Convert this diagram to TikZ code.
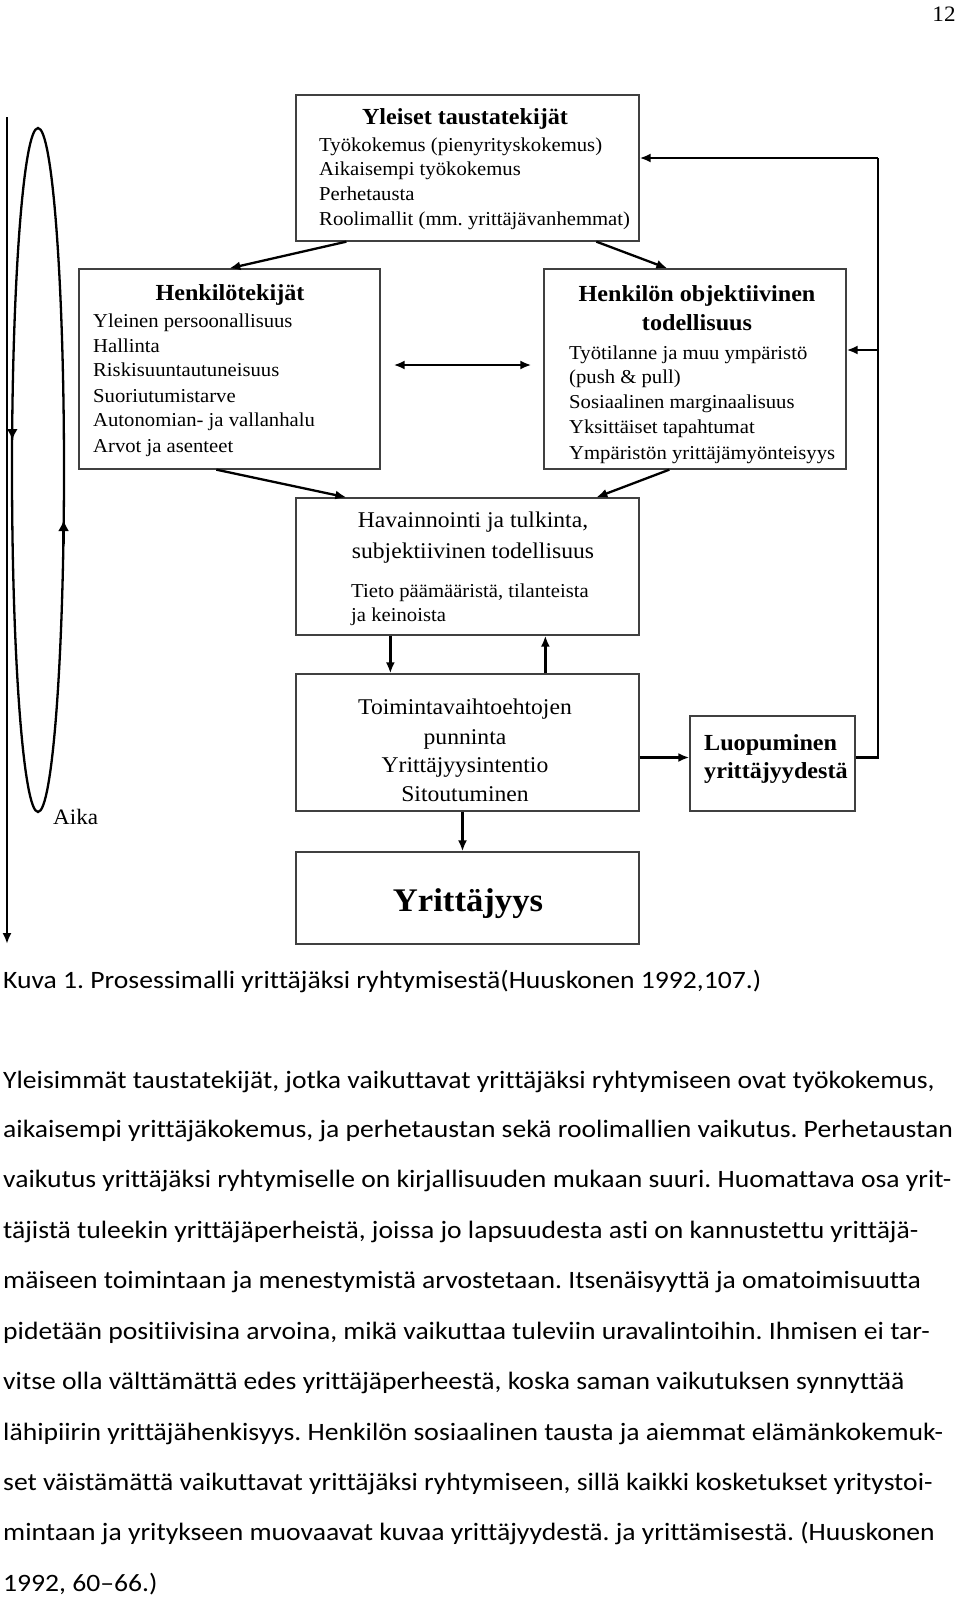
\documentclass[tikz,border=0pt]{standalone}
\usepackage{fontspec}
\setmainfont{Liberation Serif}
\newfontfamily\dg[FakeStretch=1.05,Ligatures=NoCommon]{Liberation Serif}
\newfontfamily\bodyf[FakeStretch=1.105,Ligatures=NoCommon]{Carlito}
\usetikzlibrary{arrows.meta,calc,shapes.geometric}
\frenchspacing
\begin{document}
\begin{tikzpicture}[x=1pt,y=-1pt,
  box/.style={draw=black!75, line width=1.3pt, fill=none, inner sep=0pt},
  arr/.style={line width=2.3pt, -{Latex[length=11pt,width=9pt]}},
  darr/.style={line width=2.3pt, {Latex[length=11pt,width=9pt]}-{Latex[length=11pt,width=9pt]}},
  ln/.style={line width=2.3pt},
  hd/.style={inner sep=0pt, anchor=base, font={\dg\bfseries\fontsize{23}{23}\selectfont}},
  it/.style={inner sep=0pt, anchor=base west, font={\dg\fontsize{19.7}{19.7}\selectfont}},
  mid/.style={inner sep=0pt, anchor=base, font={\dg\fontsize{22.5}{22.5}\selectfont}},
  bt/.style={inner sep=0pt, anchor=base west, font={\bodyf\fontsize{25}{25}\selectfont}}]
\useasboundingbox (0,0) rectangle (960,1599);
\fill[white] (0,0) rectangle (960,1599);

% page number
\node[inner sep=0pt, anchor=base, font={\dg\fontsize{22}{22}\selectfont}] (pg) at (944,21) {12};

% boxes
\node[box, minimum width=343, minimum height=146] (top) at (467.5,168) {};
\node[box, minimum width=301, minimum height=200] (hk) at (229.5,369) {};
\node[box, minimum width=302, minimum height=200] (obj) at (695,369) {};
\node[box, minimum width=343, minimum height=137] (hav) at (467.5,566.5) {};
\node[box, minimum width=343, minimum height=137] (toim) at (467.5,742.5) {};
\node[box, minimum width=165, minimum height=95] (luop) at (772.5,763.5) {};
\node[box, minimum width=343, minimum height=92] (yrit) at (467.5,898) {};

% top box text
\node[hd] (topH) at (465,124.5) {Yleiset taustatekijät};
\node[it] (t1) at (319,151.6) {Työkokemus (pienyrityskokemus)};
\node[it] (t2) at (319,175.6) {Aikaisempi työkokemus};
\node[it] (t3) at (319,200.6) {Perhetausta};
\node[it] (t4) at (319,225.6) {Roolimallit (mm. yrittäjävanhemmat)};

% Henkilötekijät
\node[hd] (hkH) at (230,300.5) {Henkilötekijät};
\node[it] (h1) at (93,327.6) {Yleinen persoonallisuus};
\node[it] (h2) at (93,352.6) {Hallinta};
\node[it] (h3) at (93,376.6) {Riskisuuntautuneisuus};
\node[it] (h4) at (93,402.6) {Suoriutumistarve};
\node[it] (h5) at (93,426.6) {Autonomian- ja vallanhalu};
\node[it] (h6) at (93,452.6) {Arvot ja asenteet};

% objektiivinen
\node[hd] (oH1) at (697,301.5) {Henkilön objektiivinen};
\node[hd] (oH2) at (697,330.5) {todellisuus};
\node[it] (o1) at (569,359.6) {Työtilanne ja muu ympäristö};
\node[it] (o2) at (569,383.6) {(push \& pull)};
\node[it] (o3) at (569,408.6) {Sosiaalinen marginaalisuus};
\node[it] (o4) at (569,433.6) {Yksittäiset tapahtumat};
\node[it] (o5) at (569,459.6) {Ympäristön yrittäjämyönteisyys};

% Havainnointi
\node[mid] (vH1) at (473,527.5) {Havainnointi ja tulkinta,};
\node[mid] (vH2) at (473,558.5) {subjektiivinen todellisuus};
\node[it] (v1) at (351,597.6) {Tieto päämääristä, tilanteista};
\node[it] (v2) at (351,621.6) {ja keinoista};

% Toiminta
\node[mid] (m1) at (465,714.5) {Toimintavaihtoehtojen};
\node[mid] (m2) at (465,744.5) {punninta};
\node[mid] (m3) at (465,772.5) {Yrittäjyysintentio};
\node[mid] (m4) at (465,801.5) {Sitoutuminen};

% Luopuminen
\node[hd, anchor=base west] (l1) at (704,750.5) {Luopuminen};
\node[hd, anchor=base west] (l2) at (704,778.5) {yrittäjyydestä};

% Yrittäjyys
\node[inner sep=0pt, anchor=base, font={\dg\bfseries\fontsize{33}{33}\selectfont}] (yT) at (468,911) {Yrittäjyys};

% connectors
\draw[arr] ([xshift=51]top.south west) -- ([xshift=151]hk.north west);
\draw[arr] ([xshift=301]top.south west) -- ([xshift=124]obj.north west);
\draw[darr] ([xshift=13,yshift=4]hk.east) -- ([xshift=-12,yshift=4]obj.west);
\draw[arr] ([xshift=138]hk.south west) -- ([xshift=51]hav.north west);
\draw[arr] ([xshift=126]obj.south west) -- ([xshift=301]hav.north west);
\draw[arr] ([xshift=95]hav.south west) -- ([xshift=95]toim.north west);
\draw[arr] ([xshift=250]toim.north west) -- ([xshift=250]hav.south west);
\coordinate (lw) at ([yshift=6]luop.west);
\coordinate (le) at ([yshift=6]luop.east);
\draw[arr] (toim.east |- lw) -- (lw);
\draw[arr] ([xshift=-5]toim.south) -- ([xshift=-5]yrit.north);

\coordinate (fbB) at ([xshift=22]le);
\coordinate (fbT) at (fbB |- 0,158);
\coordinate (fbM) at (fbB |- 0,350);
\draw[ln] (le) -- (fbB) -- (fbT);
\draw[arr] (fbT) -- (top.east |- fbT);
\draw[arr] (fbM) -- (obj.east |- fbM);

% time axis
\coordinate (ax0) at (7,117);
\coordinate (ax1) at (7,944);
\draw[line width=2.3pt, -{Latex[length=11pt,width=9pt]}] (ax0) -- (ax1);
\node[draw, line width=2.3pt, ellipse, minimum width=52, minimum height=684, inner sep=0pt] (el) at (38,470) {};
\draw[line width=2.3pt, -{Latex[length=11pt,width=11pt]}] (12.3,416) -- (12.3,440);
\draw[line width=2.3pt, -{Latex[length=11pt,width=11pt]}] (63.6,544) -- (63.6,520);
\node[inner sep=0pt, anchor=base west, font={\dg\fontsize{22}{22}\selectfont}] (aika) at (53,824) {Aika};

% caption and body
\node[bt] (cap) at (3,988.5) {Kuva 1. Prosessimalli yrittäjäksi ryhtymisestä(Huuskonen 1992,107.)};
\node[bt] (b1) at (3,1088.5) {Yleisimmät taustatekijät, jotka vaikuttavat yrittäjäksi ryhtymiseen ovat työkokemus,};
\node[bt] (b2) at (3,1137.5) {aikaisempi yrittäjäkokemus, ja perhetaustan sekä roolimallien vaikutus. Perhetaustan};
\node[bt] (b3) at (3,1187.5) {vaikutus yrittäjäksi ryhtymiselle on kirjallisuuden mukaan suuri. Huomattava osa yrit-};
\node[bt] (b4) at (3,1238.5) {täjistä tuleekin yrittäjäperheistä, joissa jo lapsuudesta asti on kannustettu yrittäjä-};
\node[bt] (b5) at (3,1288.5) {mäiseen toimintaan ja menestymistä arvostetaan. Itsenäisyyttä ja omatoimisuutta};
\node[bt] (b6) at (3,1339.5) {pidetään positiivisina arvoina, mikä vaikuttaa tuleviin uravalintoihin. Ihmisen ei tar-};
\node[bt] (b7) at (3,1389.5) {vitse olla välttämättä edes yrittäjäperheestä, koska saman vaikutuksen synnyttää};
\node[bt] (b8) at (3,1440.5) {lähipiirin yrittäjähenkisyys. Henkilön sosiaalinen tausta ja aiemmat elämänkokemuk-};
\node[bt] (b9) at (3,1490.5) {set väistämättä vaikuttavat yrittäjäksi ryhtymiseen, sillä kaikki kosketukset yritystoi-};
\node[bt] (b10) at (3,1540.5) {mintaan ja yritykseen muovaavat kuvaa yrittäjyydestä. ja yrittämisestä. (Huuskonen};
\node[bt] (b11) at (3,1591.5) {1992, 60–66.)};
\end{tikzpicture}
\end{document}
